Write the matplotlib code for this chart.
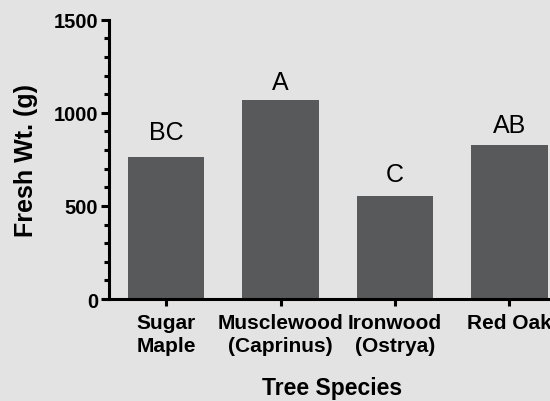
import matplotlib
matplotlib.use("Agg")
import matplotlib.pyplot as plt
from matplotlib.ticker import MultipleLocator

species = ["Sugar\nMaple", "Musclewood\n(Caprinus)", "Ironwood\n(Ostrya)", "Red Oak"]
fresh_wt = [762, 1069, 553, 826]
letters = ["BC", "A", "C", "AB"]
letter_offsets = [18, 11, 15, 13]  # px gap above bar

plt.rcParams['font.family'] = ['Liberation Sans', 'DejaVu Sans']
W, H = 550, 402
fig = plt.figure(figsize=(W / 100, H / 100), dpi=100, facecolor='#e3e3e3')
ax = fig.add_axes([109 / W, 1 - 300 / H, (555 - 109) / W, (300 - 20.7) / H])
ax.set_facecolor('#e3e3e3')

x = list(range(len(species)))
ax.bar(x, fresh_wt, width=0.67, color='#58595b', zorder=2)
for xi, v, lab, off in zip(x, fresh_wt, letters, letter_offsets):
    ax.annotate(lab, (xi, v), xytext=(0, off * 0.72), textcoords='offset points',
                ha='center', va='baseline', fontsize=18, color='black')

ax.set_xlim(-0.5, 3.4)
ax.set_ylim(0, 1500)
ax.yaxis.set_major_locator(MultipleLocator(500))
ax.yaxis.set_minor_locator(MultipleLocator(100))
ax.set_xticks(x)
ax.set_xticklabels(species, fontsize=15, fontweight='bold', linespacing=1.28)
for lbl in ax.get_yticklabels():
    lbl.set_fontweight('bold')
ax.tick_params(axis='y', labelsize=14.5, width=2.2, length=6, pad=2)
ax.tick_params(axis='y', which='minor', width=2.2, length=3.5)
ax.tick_params(axis='x', width=2.2, length=5, pad=5)
for s in ['top', 'right']:
    ax.spines[s].set_visible(False)
for s in ['left', 'bottom']:
    ax.spines[s].set_linewidth(2.2)
ax.set_ylabel('Fresh Wt. (g)', fontsize=18, fontweight='bold', labelpad=11)
ax.set_xlabel('Tree Species', fontsize=16.5, fontweight='bold', labelpad=15)

fig.savefig('out.png', dpi=100, facecolor=fig.get_facecolor())
